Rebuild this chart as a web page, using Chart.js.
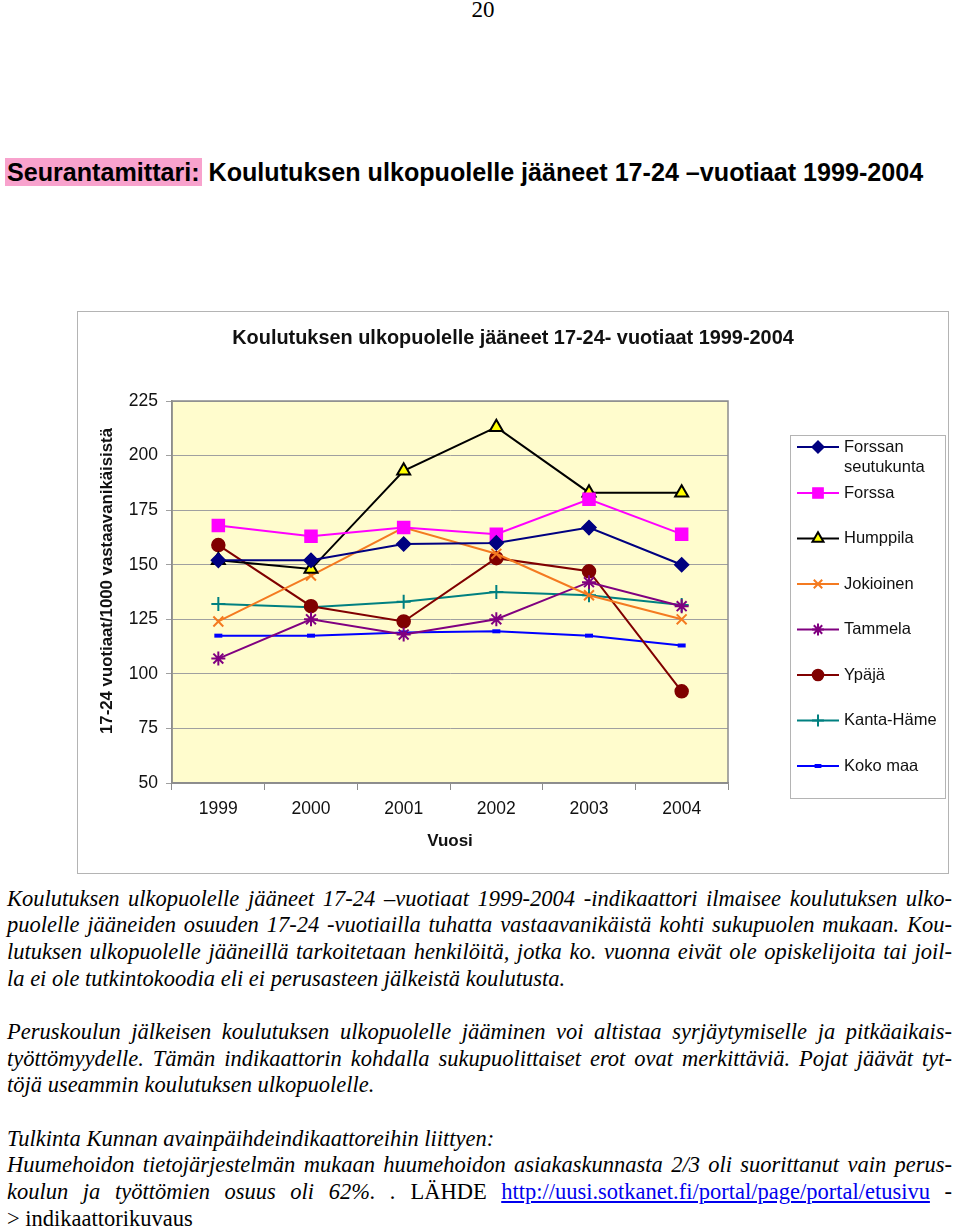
<!DOCTYPE html>
<html>
<head>
<meta charset="utf-8">
<script src="https://cdn.jsdelivr.net/npm/chart.js@4.4.0/dist/chart.umd.min.js"></script>
<style>
  body { margin: 0; background: #fff; width: 960px; height: 1231px; position: relative; overflow: hidden; font-family: "Liberation Serif", "Times New Roman", serif; color: #000; }
  .pagenum { position: absolute; top: -3px; left: 0; width: 966px; text-align: center; font-size: 23px; }
  .heading { position: absolute; top: 156px; left: 5px; font-family: "Liberation Sans", Arial, sans-serif; font-size: 25.5px; font-weight: bold; line-height: 32px; white-space: nowrap; transform-origin: 0 0; }
  .heading .tag { background: #f8a2cd; padding: 0 2px 0 2px; }
  .frame { position: absolute; left: 77px; top: 311px; width: 870px; height: 561px; border: 1px solid #b4b4b4; }
  #chart { position: absolute; left: 77px; top: 311px; }
  .txt { position: absolute; left: 7px; top: 885.7px; width: 945px; font-style: italic; font-size: 22.5px; line-height: 26.67px; }
  .txt div { white-space: nowrap; height: 26.67px; }
  .txt .j { text-align: justify; text-align-last: justify; white-space: normal; }
  .up { font-style: normal; }
  a { color: #0000ee; text-decoration: underline; }
</style>
</head>
<body>
<div class="pagenum">20</div>
<div class="heading" id="heading"><span class="tag">Seurantamittari:</span> Koulutuksen ulkopuolelle jääneet 17-24 –vuotiaat 1999-2004</div>
<div class="frame"></div>
<canvas id="chart" width="872" height="563"></canvas>

<div class="txt">
  <div class="j">Koulutuksen ulkopuolelle jääneet 17-24 –vuotiaat 1999-2004 -indikaattori ilmaisee koulutuksen ulko-</div>
  <div class="j">puolelle jääneiden osuuden 17-24 -vuotiailla tuhatta vastaavanikäistä kohti sukupuolen mukaan. Kou-</div>
  <div class="j">lutuksen ulkopuolelle jääneillä tarkoitetaan henkilöitä, jotka ko. vuonna eivät ole opiskelijoita tai joil-</div>
  <div>la ei ole tutkintokoodia eli ei perusasteen jälkeistä koulutusta.</div>
  <div></div>
  <div class="j">Peruskoulun jälkeisen koulutuksen ulkopuolelle jääminen voi altistaa syrjäytymiselle ja pitkäaikais-</div>
  <div class="j">työttömyydelle. Tämän indikaattorin kohdalla sukupuolittaiset erot ovat merkittäviä. Pojat jäävät tyt-</div>
  <div>töjä useammin koulutuksen ulkopuolelle.</div>
  <div></div>
  <div>Tulkinta Kunnan avainpäihdeindikaattoreihin liittyen:</div>
  <div class="j">Huumehoidon tietojärjestelmän mukaan huumehoidon asiakaskunnasta 2/3 oli suorittanut vain perus-</div>
  <div class="j">koulun ja työttömien osuus oli 62%. . <span class="up"> LÄHDE <a>http://uusi.sotkanet.fi/portal/page/portal/etusivu</a> -</span></div>
  <div class="up">&gt; indikaattorikuvaus</div>
</div>

<script>
// vuodet ja sarjat (luettu kuvasta)
const vuodet = ['1999', '2000', '2001', '2002', '2003', '2004'];
const forssanSeutukunta = [152, 152, 159.5, 160, 167, 150];
const forssa = [168, 163, 167, 164, 180, 164];
const humppila = [152, 148, 193, 213, 183, 183];
const jokioinen = [124, 145, 167, 155, 136, 125];
const tammela = [107, 125, 118, 125, 142, 131];
const ypaja = [159, 131, 124, 153, 147, 92];
const kantaHame = [132, 130.5, 133, 137.5, 136, 131.5];
const kokoMaa = [117.5, 117.5, 119, 119.5, 117.5, 113];
const yMin = 50, yMax = 225, yStep = 25;

const otsikko = 'Koulutuksen ulkopuolelle jääneet 17-24- vuotiaat 1999-2004';
const yOtsikko = '17-24 vuotiaat/1000 vastaavanikäisistä';

// otsikkorivi levennetään alkuperäisen leveyteen
const h = document.getElementById('heading');
h.style.transform = 'scaleX(' + (918 / h.offsetWidth) + ')';

const fam = '"Liberation Sans", Arial, sans-serif';
Chart.defaults.font.family = fam;
Chart.defaults.color = '#111';

function sarja(label, data, color, style, radius, fill, bw) {
  return {
    label: label, data: data,
    borderColor: color, borderWidth: 2,
    pointStyle: style, pointRadius: radius, pointHoverRadius: radius,
    pointBackgroundColor: fill || color,
    pointBorderColor: style === 'triangle' ? '#000' : color,
    pointBorderWidth: bw || 1.5,
    tension: 0, fill: false
  };
}

// taustaväri, kehys ja otsikot
const plotBg = {
  id: 'plotBg',
  beforeDraw(chart) {
    const { ctx, chartArea: a } = chart;
    ctx.save();
    ctx.fillStyle = '#fffccd';
    ctx.fillRect(a.left, a.top, a.right - a.left, a.bottom - a.top);
    ctx.fillStyle = '#111';
    ctx.textAlign = 'center';
    ctx.textBaseline = 'middle';
    ctx.font = 'bold 19.9px ' + fam;
    ctx.fillText(otsikko, 436, 28);
    ctx.translate(30, 270);
    ctx.rotate(-Math.PI / 2);
    ctx.font = 'bold 16.8px ' + fam;
    ctx.fillText(yOtsikko, 0, 0);
    ctx.restore();
  },
  beforeDatasetsDraw(chart) {
    const { ctx, chartArea: a } = chart;
    ctx.save();
    ctx.strokeStyle = '#8c8c8c';
    ctx.lineWidth = 1.5;
    ctx.strokeRect(a.left, a.top, a.right - a.left, a.bottom - a.top);
    ctx.restore();
  }
};

// selite: viiva + merkki kuten Excelissä
const selite = {
  id: 'selite',
  afterDraw(chart) {
    const ctx = chart.ctx;
    const bx = 713, by = 124, bw = 155, bh = 363;
    ctx.save();
    ctx.strokeStyle = '#b4b4b4';
    ctx.lineWidth = 1;
    ctx.strokeRect(bx + 0.5, by + 0.5, bw, bh);
    ctx.font = '16.5px ' + fam;
    ctx.textBaseline = 'middle';
    let y = 136;
    chart.data.datasets.forEach((ds) => {
      ctx.strokeStyle = ds.borderColor;
      ctx.lineWidth = 2;
      ctx.beginPath(); ctx.moveTo(720, y); ctx.lineTo(762, y); ctx.stroke();
      ctx.fillStyle = ds.pointBackgroundColor;
      ctx.strokeStyle = ds.pointBorderColor;
      ctx.lineWidth = ds.pointBorderWidth;
      Chart.helpers.drawPoint(ctx, { pointStyle: ds.pointStyle, radius: ds.pointRadius * 0.85, rotation: 0, borderWidth: ds.pointBorderWidth }, 741, y);
      // tekstin rivitys
      const words = ds.label.split(' ');
      const lines = [];
      let cur = '';
      words.forEach((w) => {
        const t = cur ? cur + ' ' + w : w;
        if (ctx.measureText(t).width > 98 && cur) { lines.push(cur); cur = w; } else cur = t;
      });
      lines.push(cur);
      ctx.fillStyle = '#111';
      lines.forEach((l, i) => ctx.fillText(l, 767, y + i * 20));
      y += lines.length > 1 ? 46 : 45.5;
    });
    ctx.restore();
  }
};

new Chart(document.getElementById('chart'), {
  type: 'line',
  data: {
    labels: vuodet,
    datasets: [
      sarja('Forssan seutukunta', forssanSeutukunta, '#000080', 'rectRot', 7),
      sarja('Forssa', forssa, '#ff00ff', 'rect', 8.5),
      sarja('Humppila', humppila, '#000000', 'triangle', 7.5, '#ffff00', 2),
      sarja('Jokioinen', jokioinen, '#f47a20', 'crossRot', 7, null, 2),
      sarja('Tammela', tammela, '#800080', 'star', 7, null, 2),
      sarja('Ypäjä', ypaja, '#800000', 'circle', 6.5),
      sarja('Kanta-Häme', kantaHame, '#008080', 'cross', 7, null, 2),
      sarja('Koko maa', kokoMaa, '#0000ff', 'line', 4, null, 4)
    ]
  },
  options: {
    responsive: false,
    animation: false,
    layout: { padding: { left: 0, right: 221, top: 90, bottom: 0 } },
    plugins: {
      legend: { display: false },
      tooltip: { enabled: false },
      title: { display: false }
    },
    scales: {
      x: {
        offset: true,
        grid: { display: true, drawOnChartArea: false, offset: true, tickLength: 7, color: '#8c8c8c' },
        border: { color: '#8c8c8c', width: 1.5 },
        ticks: { font: { size: 17.5 }, padding: 9, color: '#111' },
        title: { display: true, text: 'Vuosi', font: { size: 17, weight: 'bold' }, color: '#111', padding: { top: 0, bottom: 22 } },
        afterFit(s) { s.height = 91; }
      },
      y: {
        min: yMin, max: yMax,
        ticks: { stepSize: yStep, font: { size: 17.5 }, padding: 8, color: '#111' },
        grid: { color: '#a0a0a0', tickLength: 6, lineWidth: 1 },
        border: { color: '#8c8c8c', width: 1.5 },
        afterFit(s) { s.width = 95; }
      }
    }
  },
  plugins: [plotBg, selite]
});
</script>
</body>
</html>
